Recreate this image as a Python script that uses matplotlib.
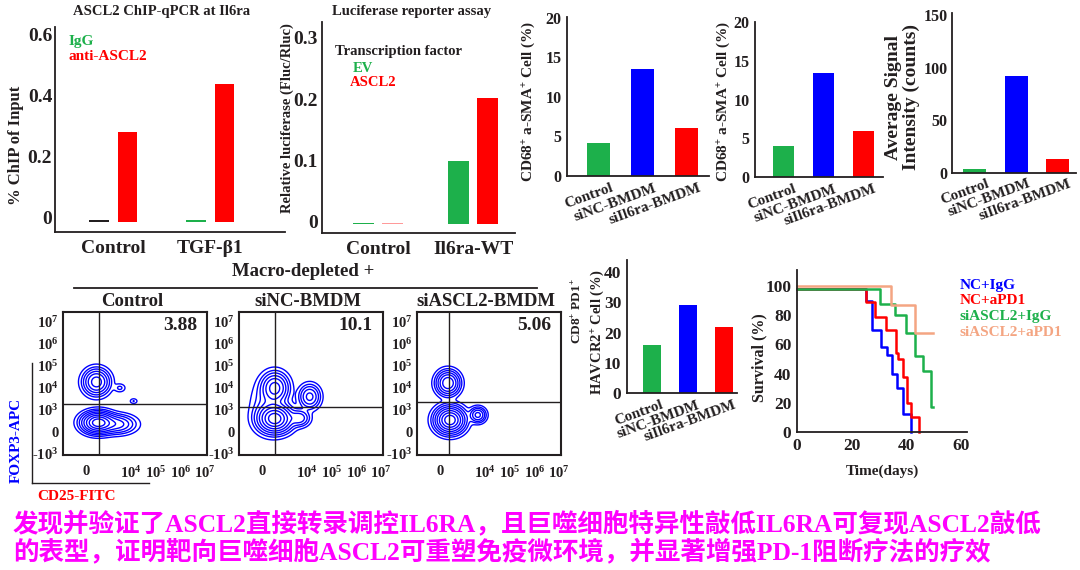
import numpy as np
import matplotlib
matplotlib.use('Agg')
import matplotlib.pyplot as plt
from matplotlib.lines import Line2D

plt.rcParams['font.family'] = ['Liberation Serif', 'Noto Sans CJK SC']
plt.rcParams['font.weight'] = 'bold'
plt.rcParams['axes.labelweight'] = 'bold'
plt.rcParams['mathtext.fontset'] = 'custom'
plt.rcParams['mathtext.rm'] = 'Liberation Serif:bold'
plt.rcParams['mathtext.it'] = 'Liberation Serif:bold'
plt.rcParams['mathtext.bf'] = 'Liberation Serif:bold'
plt.rcParams['mathtext.default'] = 'rm'

# ---------------- data ----------------
chip_groups = ['Control', 'TGF-β1']
chip_igg = [-0.007, -0.007]
chip_anti = [0.282, 0.44]

luc_groups = ['Control', 'Il6ra-WT']
luc_ev = [-0.002, 0.100]
luc_ascl2 = [-0.002, 0.202]

bmdm_groups = ['Control', 'siNC-BMDM', 'siIl6ra-BMDM']
cd68_a = [4.2, 13.5, 6.1]
cd68_b = [4.0, 13.4, 5.9]
signal_counts = [4, 92, 13]
cd8_havcr2 = [16, 29, 22]

surv_labels = ['NC+IgG', 'NC+aPD1', 'siASCL2+IgG', 'siASCL2+aPD1']
days_nc_igg = [0, 25, 27.5, 30.5, 33, 34.5, 36.5, 38.5, 41.5]
surv_nc_igg = [98, 90, 70, 58, 53, 40, 30, 12, 0]
days_nc_apd1 = [0, 25, 28.5, 32.5, 36, 37, 38.7, 40, 41.7, 44.5]
surv_nc_apd1 = [98, 89, 79, 70, 54, 50, 38, 20, 10, 0]
days_si_igg = [0, 30.2, 35.9, 39.9, 43.2, 45.9, 49, 49.6]
surv_si_igg = [98, 88, 80, 68, 52, 42, 17, 17]
days_si_apd1 = [0, 34.4, 42.9, 49.6]
surv_si_apd1 = [100, 87, 68, 68]

flow_titles = ['Control', 'siNC-BMDM', 'siASCL2-BMDM']
flow_pct = ['3.88', '10.1', '5.06']
flow_gate_x = [1.47, 1.46, 1.3]
flow_gate_y = [2.27, 2.13, 2.36]
flow_yticklabels = ['-10$^{3}$', '0', '10$^{3}$', '10$^{4}$', '10$^{5}$', '10$^{6}$', '10$^{7}$']
flow_xticklabels = ['0', '10$^{4}$', '10$^{5}$', '10$^{6}$', '10$^{7}$']
# cluster descriptions (centre x, centre y, spread x, spread y, weight)
ctrl_cx = [1.36, 1.42, 2.2, 2.31, 2.87]
ctrl_cy = [3.27, 1.42, 1.35, 3.0, 2.4]
ctrl_sx = [0.27, 0.33, 0.38, 0.13, 0.09]
ctrl_sy = [0.3, 0.24, 0.22, 0.11, 0.07]
ctrl_w = [0.5, 1.0, 0.3, 0.008, 0.003]
sinc_cx = [1.46, 1.46, 2.87, 2.45, 1.15]
sinc_cy = [3.0, 1.6, 2.6, 1.63, 2.2]
sinc_sx = [0.28, 0.35, 0.22, 0.22, 0.36]
sinc_sy = [0.35, 0.32, 0.28, 0.2, 0.6]
sinc_w = [0.4, 1.0, 0.15, 0.08, 0.15]
sasc_cx = [1.26, 1.34, 2.47]
sasc_cy = [3.22, 1.54, 1.77]
sasc_sx = [0.24, 0.3, 0.17]
sasc_sy = [0.28, 0.3, 0.18]
sasc_w = [0.4, 1.0, 0.09]

# ---------------- style ----------------
GREEN = '#1DB04B'
RED = '#FF0000'
BLUE = '#0000FF'
TXT = '#231F20'
SALMON = '#F4A582'
PINK = '#FF9A9A'
MAGENTA = '#FF00FF'

W, H = 1080, 570
fig = plt.figure(figsize=(10.8, 5.7), dpi=100)


def ax_px(x0, y0, x1, y1):
    return fig.add_axes([x0 / W, 1 - y1 / H, (x1 - x0) / W, (y1 - y0) / H])


def ftext(x, y, s, **kw):
    kw.setdefault('color', TXT)
    kw.setdefault('fontweight', 'bold')
    return fig.text(x / W, 1 - y / H, s, **kw)


def vlabel(x, y, s, fs, **kw):
    return ftext(x, y, s, fontsize=fs, rotation=90, ha='center', va='center', **kw)


def style_bar_ax(ax, fs=13, pad=4):
    for s in ['top', 'right']:
        ax.spines[s].set_visible(False)
    for s in ['left', 'bottom']:
        ax.spines[s].set_color(TXT)
        ax.spines[s].set_linewidth(1.3)
    ax.tick_params(length=0, labelsize=fs, labelcolor=TXT, pad=pad)


# ---- Panel 1: ChIP ----
ax = ax_px(55, 27, 285, 232)
style_bar_ax(ax, 14, pad=2)
x = np.arange(len(chip_groups))
base = -0.012
ax.bar(x - 0.145, np.array(chip_igg) - base, bottom=base, width=0.2,
       color=[TXT, GREEN])
ax.bar(x + 0.145, np.array(chip_anti) - base, bottom=base, width=0.2, color=RED)
ax.set_xlim(-0.6, 1.77)
ax.set_ylim(-0.046, 0.626)
ax.set_yticks([0, 0.2, 0.4, 0.6])
ax.set_yticklabels(['0', '0.2', '0.4', '0.6'])
ax.set_xticks(x)
ax.set_xticklabels(chip_groups, fontsize=14)
ax.tick_params(axis='x', pad=6)
vlabel(16, 145, '% ChIP of Input', 12)
ax.text(0.06, 0.93, 'IgG', transform=ax.transAxes, color=GREEN, fontsize=11, va='center')
ax.text(0.06, 0.855, 'anti-ASCL2', transform=ax.transAxes, color=RED, fontsize=11, va='center')
ftext(162, 11, 'ASCL2 ChIP-qPCR at Il6ra', fontsize=10.5, ha='center', va='center')

# ---- Panel 2: Luciferase ----
ax = ax_px(322, 22, 515, 233)
style_bar_ax(ax, 14, pad=3)
x = np.arange(len(luc_groups))
base = -0.004
ax.bar(x - 0.155, np.array(luc_ev) - base, bottom=base, width=0.22, color=GREEN)
ax.bar(x + 0.155, np.array(luc_ascl2) - base, bottom=base, width=0.22,
       color=[PINK, RED])
ax.set_xlim(-0.59, 1.44)
ax.set_ylim(-0.018, 0.326)
ax.set_yticks([0, 0.1, 0.2, 0.3])
ax.set_yticklabels(['0', '0.1', '0.2', '0.3'])
ax.set_xticks(x)
ax.set_xticklabels(luc_groups, fontsize=14)
ax.tick_params(axis='x', pad=6)
vlabel(287, 118, 'Relative luciferase (Fluc/Rluc)', 10.5)
ftext(335, 52, 'Transcription factor', fontsize=10.5, va='center')
ftext(353, 68, 'EV', fontsize=10.5, va='center', color=GREEN)
ftext(350, 82, 'ASCL2', fontsize=10.5, va='center', color=RED)
ftext(412, 11, 'Luciferase reporter assay', fontsize=10.5, ha='center', va='center')

bar_cols = [GREEN, BLUE, RED]


def bmdm_xticks(ax, fs=11, widths=0.52):
    ax.set_xticks(np.arange(3) + widths / 2)
    ax.set_xticklabels(bmdm_groups, rotation=20, ha='right',
                       rotation_mode='anchor', fontsize=fs)


# ---- Panel 3: CD68 a ----
ax = ax_px(567, 17, 709, 176)
style_bar_ax(ax, 11.5)
ax.bar(np.arange(3), cd68_a, width=0.52, color=bar_cols)
ax.set_xlim(-0.72, 2.51)
ax.set_ylim(0, 20.1)
ax.set_yticks([0, 5, 10, 15, 20])
bmdm_xticks(ax)
vlabel(528, 101, 'CD68$^{+}$ a-SMA$^{+}$ Cell (%)', 11)

# ---- Panel 4: CD68 b ----
ax = ax_px(755, 22, 883, 177)
style_bar_ax(ax, 11.5)
ax.bar(np.arange(3), cd68_b, width=0.52, color=bar_cols)
ax.set_xlim(-0.71, 2.49)
ax.set_ylim(0, 20)
ax.set_yticks([0, 5, 10, 15, 20])
bmdm_xticks(ax)
vlabel(723, 101, 'CD68$^{+}$ a-SMA$^{+}$ Cell (%)', 11)

# ---- Panel 5: Signal intensity ----
ax = ax_px(952, 13, 1076, 173)
style_bar_ax(ax, 11.5, pad=3)
ax.bar(np.arange(3), signal_counts, width=0.56, color=bar_cols)
ax.set_xlim(-0.56, 2.46)
ax.set_ylim(0, 152)
ax.set_yticks([0, 50, 100, 150])
bmdm_xticks(ax, widths=0.56)
vlabel(893, 97, 'Average Signal', 14)
vlabel(911, 97, 'Intensity (counts)', 14)

# ---- Panel 6: CD8 PD1 HAVCR2 ----
ax = ax_px(627, 260, 737, 393)
style_bar_ax(ax, 12.5)
ax.bar(np.arange(3), cd8_havcr2, width=0.5, color=bar_cols)
ax.set_xlim(-0.69, 2.36)
ax.set_ylim(0, 44)
ax.set_yticks([0, 10, 20, 30, 40])
bmdm_xticks(ax, fs=11, widths=0.5)
vlabel(577, 311, 'CD8$^{+}$ PD1$^{+}$', 9.5)
vlabel(597, 332, 'HAVCR2$^{+}$ Cell (%)', 10.5)

# ---- Panel 7: Survival ----
ax = ax_px(797, 270, 967, 432)
style_bar_ax(ax, 12.5)
surv = [(days_nc_igg, surv_nc_igg, BLUE), (days_nc_apd1, surv_nc_apd1, RED),
        (days_si_igg, surv_si_igg, GREEN), (days_si_apd1, surv_si_apd1, SALMON)]
for (d, s, c) in surv:
    ax.step(d, s, where='post', color=c, lw=1.8, clip_on=False)
ax.set_xlim(0, 62)
ax.set_ylim(0, 111)
ax.set_xticks([0, 20, 40, 60])
ax.set_yticks([0, 20, 40, 60, 80, 100])
ax.set_xlabel('Time(days)', fontsize=11, color=TXT, labelpad=8)
vlabel(759, 358, 'Survival (%)', 11.5)
for i, (lab, (_, _, c)) in enumerate(zip(surv_labels, surv)):
    ftext(960, 285 + i * 15.7, lab, fontsize=11, color=c, va='center')

# ---- Flow panels ----
ftext(303, 272, 'Macro-depleted +', fontsize=13.5, ha='center', va='center')
fig.add_artist(Line2D([74 / W, 537 / W], [1 - 288 / H] * 2, color=TXT, lw=1.3))

flow_boxes = [(63, 312, 207, 455), (239, 312, 383, 455), (417, 312, 561, 455)]
flow_clusters = [(ctrl_cx, ctrl_cy, ctrl_sx, ctrl_sy, ctrl_w),
                 (sinc_cx, sinc_cy, sinc_sx, sinc_sy, sinc_w),
                 (sasc_cx, sasc_cy, sasc_sx, sasc_sy, sasc_w)]
gx = np.linspace(0, 5.85, 300)
gy = np.linspace(-0.05, 6.45, 300)
GX, GY = np.meshgrid(gx, gy)
for i in range(3):
    x0, y0, x1, y1 = flow_boxes[i]
    ax = ax_px(x0, y0, x1, y1)
    cx, cy, sx, sy, w = flow_clusters[i]
    Z = np.zeros_like(GX)
    for a, b, c, d, e in zip(cx, cy, sx, sy, w):
        Z += e / (c * d) * np.exp(-0.5 * (((GX - a) / c) ** 2 + ((GY - b) / d) ** 2))
    M = Z.max()
    levels = M * np.array([0.012, 0.035, 0.07, 0.13, 0.22, 0.36, 0.55, 0.78])
    ax.contour(GX, GY, Z, levels=levels, colors=BLUE, linewidths=1.0)
    ax.axvline(flow_gate_x[i], color=TXT, lw=1.0)
    ax.axhline(flow_gate_y[i], color=TXT, lw=1.0)
    ax.set_xlim(0, 5.85)
    ax.set_ylim(-0.05, 6.45)
    ax.set_yticks(np.arange(7))
    ax.set_yticklabels(flow_yticklabels)
    ax.set_xticks([0.93, 2.75, 3.77, 4.78, 5.75])
    ax.set_xticklabels(flow_xticklabels)
    ax.tick_params(axis='y', length=0, labelsize=10.5, labelcolor=TXT, pad=3)
    ax.tick_params(axis='x', length=0, labelsize=10.5, labelcolor=TXT, pad=7)
    for s in ax.spines.values():
        s.set_color(TXT)
        s.set_linewidth(1.5)
    ftext(x1 - 10, 326, flow_pct[i], fontsize=14, ha='right', va='center')
    ftext((x0 + x1) / 2 - 3, 302, flow_titles[i], fontsize=13.5, ha='center', va='center')

fig.add_artist(Line2D([32 / W, 32 / W], [1 - 363 / H, 1 - 483 / H], color=TXT, lw=1.0))
fig.add_artist(Line2D([32 / W, 149 / W], [1 - 483 / H] * 2, color=TXT, lw=1.0))
vlabel(16, 440, 'FOXP3-APC', 11, color=BLUE)
ftext(77, 497, 'CD25-FITC', fontsize=11, ha='center', va='center', color=RED)

# ---- Chinese caption ----
ftext(13, 523, '发现并验证了ASCL2直接转录调控IL6RA，且巨噬细胞特异性敲低IL6RA可复现ASCL2敲低',
      fontsize=18.4, va='center', color=MAGENTA)
ftext(13, 551, '的表型，证明靶向巨噬细胞ASCL2可重塑免疫微环境，并显著增强PD-1阻断疗法的疗效',
      fontsize=18.4, va='center', color=MAGENTA)

fig.savefig('out.png', dpi=100)
